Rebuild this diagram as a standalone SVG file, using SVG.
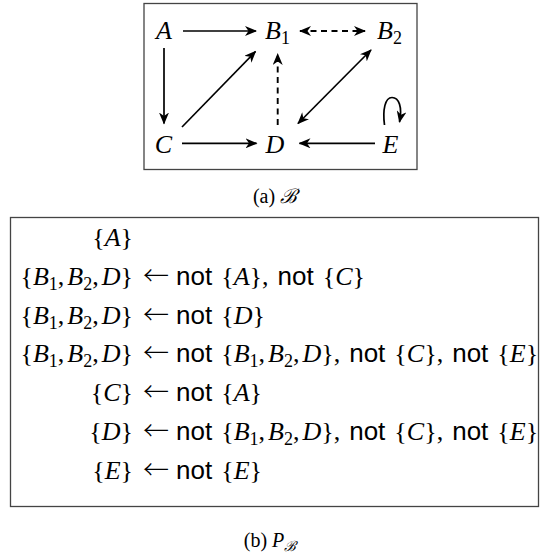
<svg xmlns="http://www.w3.org/2000/svg" width="540" height="554" viewBox="0 0 540 554">
<defs>
<marker id="ah" viewBox="0 0 12 10" refX="11" refY="5" markerWidth="12" markerHeight="10" markerUnits="userSpaceOnUse" orient="auto-start-reverse">
<path d="M0,0 L12,5 L0,10 L3.5,5 Z" fill="#000"/>
</marker>
</defs>
<style>
.box{fill:none;stroke:#444;stroke-width:1.3}
.e{fill:none;stroke:#000;stroke-width:1.7}
.d{stroke-dasharray:6,4.5;stroke-width:1.9}
.m{font-family:"Liberation Serif",serif;font-size:26px;fill:#000}
.i{font-style:italic}
.s{font-size:18px;font-style:normal}
.sf{font-family:"Liberation Sans",sans-serif}
.ar{font-family:"Noto Sans CJK SC","DejaVu Sans",sans-serif;font-weight:300}
.cap{font-family:"Liberation Serif",serif;font-size:20px;fill:#000}
.scr{font-family:"DejaVu Serif",serif;font-style:italic}
</style>
<rect class="box" x="144" y="3.5" width="273" height="166"/>
<g id="connectors">
<line class="e" x1="183" y1="31" x2="256" y2="31" marker-end="url(#ah)"/>
<line class="e d" x1="300" y1="31" x2="365" y2="31" marker-start="url(#ah)" marker-end="url(#ah)"/>
<line class="e" x1="164" y1="48" x2="164" y2="123.5" marker-end="url(#ah)"/>
<line class="e" x1="182" y1="127" x2="255.5" y2="51.5" marker-end="url(#ah)"/>
<line class="e d" x1="277.7" y1="125" x2="277.7" y2="54" marker-end="url(#ah)"/>
<line class="e" x1="371" y1="50" x2="298" y2="123.5" marker-start="url(#ah)" marker-end="url(#ah)"/>
<line class="e" x1="182" y1="143.3" x2="256.5" y2="143.3" marker-end="url(#ah)"/>
<line class="e" x1="375" y1="143.3" x2="299.5" y2="143.3" marker-end="url(#ah)"/>
<path class="e" d="M384.5,125 C382.5,110 385,97.5 392,97.5 C399,97.5 402.5,107 399.5,122" marker-end="url(#ah)"/>
</g>
<g id="A"><text class="m i" x="164" y="38.5" text-anchor="middle" font-size="25">A</text></g>
<g id="B1"><text class="m" x="265" y="38.5" font-size="25"><tspan class="i">B</tspan><tspan class="s" dy="5">1</tspan></text></g>
<g id="B2"><text class="m" x="377" y="38.5" font-size="25"><tspan class="i">B</tspan><tspan class="s" dy="5">2</tspan></text></g>
<g id="C"><text class="m i" x="163.5" y="153" text-anchor="middle" font-size="25">C</text></g>
<g id="D"><text class="m i" x="275" y="153" text-anchor="middle" font-size="25">D</text></g>
<g id="E"><text class="m i" x="390.5" y="153" text-anchor="middle" font-size="25">E</text></g>
<text class="cap" x="275" y="203" text-anchor="middle">(a) <tspan class="scr">ℬ</tspan></text>
<rect class="box" x="10.5" y="217.5" width="528" height="289"/>
<g id="program">
<text class="m" x="133" y="245.5" text-anchor="end">{<tspan class="i">A</tspan>}</text>
<text class="m" x="133" y="284.5" text-anchor="end">{<tspan class="i">B</tspan><tspan class="s" dy="5">1</tspan><tspan dy="-5">,</tspan><tspan class="i" dx="3">B</tspan><tspan class="s" dy="5">2</tspan><tspan dy="-5">,</tspan><tspan class="i" dx="3">D</tspan>}</text>
<text class="m" x="143" y="284.5"><tspan class="ar">←</tspan><tspan class="sf" dx="7">not</tspan><tspan dx="9">{</tspan><tspan class="i">A</tspan>},<tspan class="sf" dx="9">not</tspan><tspan dx="9">{</tspan><tspan class="i">C</tspan>}</text>
<text class="m" x="133" y="323.5" text-anchor="end">{<tspan class="i">B</tspan><tspan class="s" dy="5">1</tspan><tspan dy="-5">,</tspan><tspan class="i" dx="3">B</tspan><tspan class="s" dy="5">2</tspan><tspan dy="-5">,</tspan><tspan class="i" dx="3">D</tspan>}</text>
<text class="m" x="143" y="323.5"><tspan class="ar">←</tspan><tspan class="sf" dx="7">not</tspan><tspan dx="9">{</tspan><tspan class="i">D</tspan>}</text>
<text class="m" x="133" y="362" text-anchor="end">{<tspan class="i">B</tspan><tspan class="s" dy="5">1</tspan><tspan dy="-5">,</tspan><tspan class="i" dx="3">B</tspan><tspan class="s" dy="5">2</tspan><tspan dy="-5">,</tspan><tspan class="i" dx="3">D</tspan>}</text>
<text class="m" x="143" y="362"><tspan class="ar">←</tspan><tspan class="sf" dx="7">not</tspan><tspan dx="9">{</tspan><tspan class="i">B</tspan><tspan class="s" dy="5">1</tspan><tspan dy="-5">,</tspan><tspan class="i" dx="3">B</tspan><tspan class="s" dy="5">2</tspan><tspan dy="-5">,</tspan><tspan class="i" dx="3">D</tspan>},<tspan class="sf" dx="9">not</tspan><tspan dx="9">{</tspan><tspan class="i">C</tspan>},<tspan class="sf" dx="9">not</tspan><tspan dx="9">{</tspan><tspan class="i">E</tspan>}</text>
<text class="m" x="133" y="401" text-anchor="end">{<tspan class="i">C</tspan>}</text>
<text class="m" x="143" y="401"><tspan class="ar">←</tspan><tspan class="sf" dx="7">not</tspan><tspan dx="9">{</tspan><tspan class="i">A</tspan>}</text>
<text class="m" x="133" y="440" text-anchor="end">{<tspan class="i">D</tspan>}</text>
<text class="m" x="143" y="440"><tspan class="ar">←</tspan><tspan class="sf" dx="7">not</tspan><tspan dx="9">{</tspan><tspan class="i">B</tspan><tspan class="s" dy="5">1</tspan><tspan dy="-5">,</tspan><tspan class="i" dx="3">B</tspan><tspan class="s" dy="5">2</tspan><tspan dy="-5">,</tspan><tspan class="i" dx="3">D</tspan>},<tspan class="sf" dx="9">not</tspan><tspan dx="9">{</tspan><tspan class="i">C</tspan>},<tspan class="sf" dx="9">not</tspan><tspan dx="9">{</tspan><tspan class="i">E</tspan>}</text>
<text class="m" x="133" y="479" text-anchor="end">{<tspan class="i">E</tspan>}</text>
<text class="m" x="143" y="479"><tspan class="ar">←</tspan><tspan class="sf" dx="7">not</tspan><tspan dx="9">{</tspan><tspan class="i">E</tspan>}</text>
</g>
<text class="cap" x="270" y="547" text-anchor="middle">(b) <tspan class="i">P</tspan><tspan class="scr" font-size="14" dy="4">ℬ</tspan></text>
</svg>
